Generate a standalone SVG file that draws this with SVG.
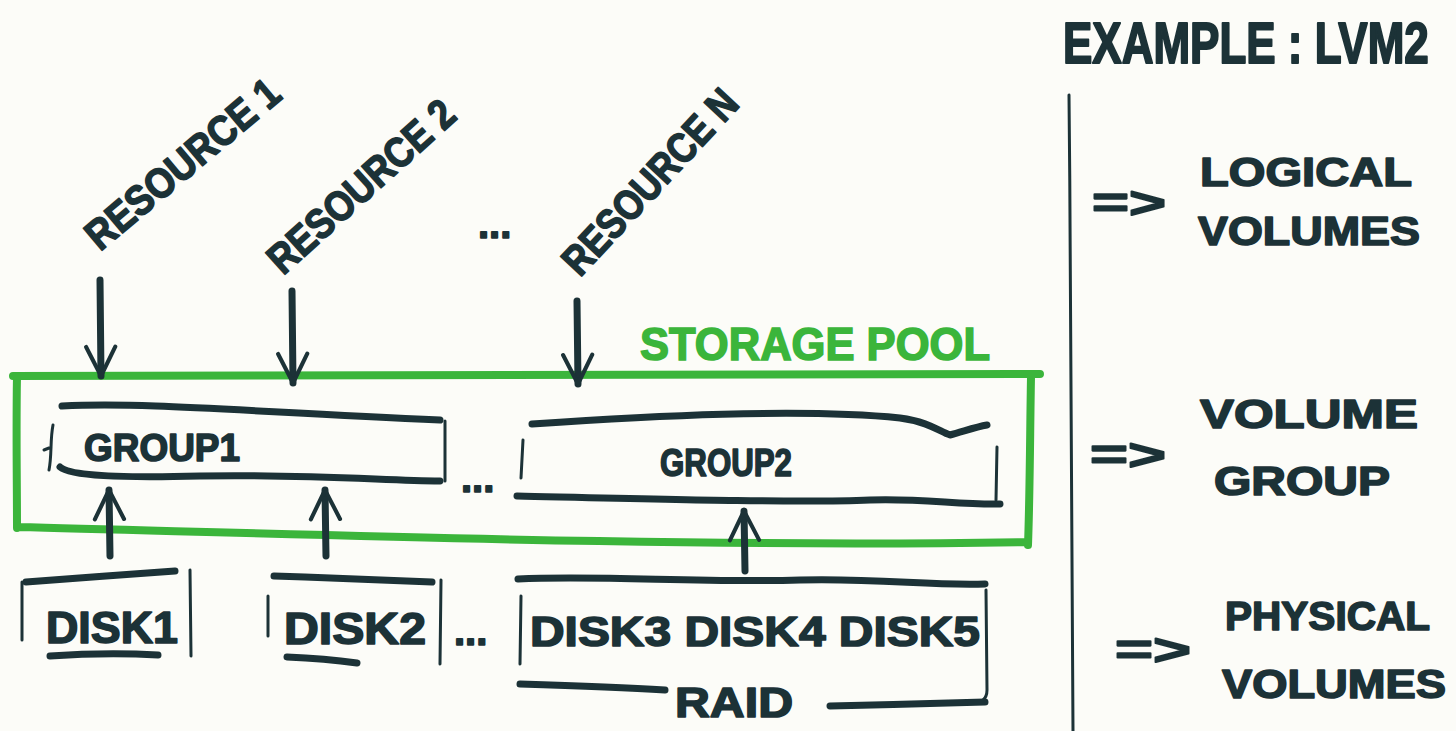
<svg xmlns="http://www.w3.org/2000/svg" width="1456" height="731" viewBox="0 0 1456 731">
  <style>
    .ink { fill: none; stroke: #1c3237; stroke-width: 7; stroke-linecap: round; stroke-linejoin: round; }
    .thin { fill: none; stroke: #1c3237; stroke-width: 3; stroke-linecap: round; }
    .pool { fill: none; stroke: #3bb53b; stroke-width: 8; stroke-linecap: round; stroke-linejoin: round; }
    .t { font-family: "Liberation Sans", Arial, sans-serif; font-weight: bold; fill: #1c3237; stroke: #1c3237; stroke-width: 1.6; stroke-linejoin: round; }
    .g { font-family: "Liberation Sans", Arial, sans-serif; font-weight: bold; fill: #3bb53b; stroke: #3bb53b; stroke-width: 1.6; }
  </style>
  <defs>
    <marker id="head" viewBox="0 0 12 12" refX="11" refY="6" markerWidth="5" markerHeight="5" orient="auto" markerUnits="strokeWidth">
      <path d="M1,1 L11,6 L1,11" fill="none" stroke="#1c3237" stroke-width="1.4" stroke-linecap="round" stroke-linejoin="round"/>
    </marker>
  </defs>
  <rect width="1456" height="731" fill="#fcfcf8"/>

  <!-- resources -->
  <g id="resource1">
    <text class="t" font-size="42" transform="translate(100,252) rotate(-40)" textLength="240" lengthAdjust="spacingAndGlyphs">RESOURCE 1</text>
  </g>
  <g id="resource2">
    <text class="t" font-size="42" transform="translate(283,276) rotate(-42)" textLength="236" lengthAdjust="spacingAndGlyphs">RESOURCE 2</text>
  </g>
  <g id="resource-dots">
    <text class="t" font-size="40" x="478" y="238">...</text>
  </g>
  <g id="resourceN">
    <text class="t" font-size="42" transform="translate(580,278) rotate(-47)" textLength="236" lengthAdjust="spacingAndGlyphs">RESOURCE N</text>
  </g>

  <!-- storage pool -->
  <g id="storage-pool">
    <path class="pool" d="M13,376 C250,373 600,378 1040,374 M1031,377 C1030,430 1030,490 1028,545 M1028,542 C700,548 300,534 17,527 M17,376 C16,430 17,480 17,528"/>
    <text class="g" font-size="46" x="640" y="360" textLength="350" lengthAdjust="spacingAndGlyphs">STORAGE POOL</text>
  </g>

  <!-- volume groups -->
  <g id="group1">
    <path class="ink" d="M62,406 C150,402 250,412 440,420"/>
    <path class="ink" d="M60,467 C70,476 120,478 200,476 C300,474 380,480 440,481"/>
    <path class="thin" d="M53,425 C50,440 52,455 49,470 M49,448 L44,450"/>
    <path class="thin" d="M445,421 L445,481"/>
    <text class="t" font-size="38" x="84" y="461" textLength="156" lengthAdjust="spacingAndGlyphs">GROUP1</text>
  </g>
  <g id="group-dots">
    <text class="t" font-size="40" x="461" y="492">...</text>
  </g>
  <g id="group2">
    <path class="ink" d="M532,424 C650,416 800,408 900,418 C930,422 940,432 950,435 C962,432 975,427 987,425"/>
    <path class="ink" d="M517,496 C650,499 800,503 870,500 C920,498 960,505 1000,504"/>
    <path class="thin" d="M523,440 L521,478"/>
    <path class="thin" d="M997,447 L996,500"/>
    <text class="t" font-size="38" x="660" y="476" textLength="132" lengthAdjust="spacingAndGlyphs">GROUP2</text>
  </g>

  <!-- disks -->
  <g id="disk1">
    <path class="ink" d="M26,582 C70,579 130,574 175,571"/>
    <path class="thin" d="M22,582 L22,640"/>
    <path class="thin" d="M190,570 L191,656"/>
    <text class="t" font-size="44" x="46" y="643" textLength="132" lengthAdjust="spacingAndGlyphs">DISK1</text>
    <path class="ink" d="M50,656 C80,654 120,653 158,655"/>
  </g>
  <g id="disk2">
    <path class="ink" d="M274,576 C330,578 390,580 432,582"/>
    <path class="thin" d="M268,596 L268,636"/>
    <path class="thin" d="M441,580 L440,664"/>
    <text class="t" font-size="44" x="284" y="644" textLength="142" lengthAdjust="spacingAndGlyphs">DISK2</text>
    <path class="ink" d="M287,657 C310,658 335,660 357,663"/>
  </g>
  <g id="disk-dots">
    <text class="t" font-size="40" x="454" y="645">...</text>
  </g>
  <g id="raid">
    <path class="ink" d="M518,579 C600,575 700,583 800,580 C880,578 930,586 985,584"/>
    <path class="thin" d="M521,596 L520,664"/>
    <path class="thin" d="M986,590 L987,690 C987,700 980,703 975,703"/>
    <text class="t" font-size="42" x="530" y="646" textLength="450" lengthAdjust="spacingAndGlyphs">DISK3  DISK4  DISK5</text>
    <path class="ink" d="M520,684 C580,686 630,688 665,690"/>
    <text class="t" font-size="42" x="675" y="717" textLength="118" lengthAdjust="spacingAndGlyphs">RAID</text>
    <path class="ink" d="M830,706 C880,705 940,703 985,702"/>
  </g>

  <!-- connectors -->
  <g id="connectors">
    <path class="ink" d="M100,280 L101,376" marker-end="url(#head)"/>
    <path class="ink" d="M292,291 L293,383" marker-end="url(#head)"/>
    <path class="ink" d="M577,301 L578,384" marker-end="url(#head)"/>
    <path class="ink" d="M110,556 L109,490" marker-end="url(#head)"/>
    <path class="ink" d="M326,556 L325,490" marker-end="url(#head)"/>
    <path class="ink" d="M745,571 L744,511" marker-end="url(#head)"/>
  </g>

  <!-- legend -->
  <g id="legend">
    <text class="t" font-size="44" transform="translate(1063,63) scale(1,1.3)">EXAMPLE : LVM2</text>
    <path class="thin" d="M1069,95 C1071,300 1072,500 1073,731"/>
  </g>
  <g id="logical-volumes">
    <text class="t" font-size="44" x="1092" y="218" textLength="74" lengthAdjust="spacingAndGlyphs">=&gt;</text>
    <text class="t" font-size="40" x="1200" y="186" textLength="212" lengthAdjust="spacingAndGlyphs">LOGICAL</text>
    <text class="t" font-size="40" x="1198" y="245" textLength="222" lengthAdjust="spacingAndGlyphs">VOLUMES</text>
  </g>
  <g id="volume-group">
    <text class="t" font-size="44" x="1090" y="470" textLength="76" lengthAdjust="spacingAndGlyphs">=&gt;</text>
    <text class="t" font-size="40" x="1200" y="428" textLength="218" lengthAdjust="spacingAndGlyphs">VOLUME</text>
    <text class="t" font-size="40" x="1214" y="495" textLength="176" lengthAdjust="spacingAndGlyphs">GROUP</text>
  </g>
  <g id="physical-volumes">
    <text class="t" font-size="44" x="1115" y="665" textLength="76" lengthAdjust="spacingAndGlyphs">=&gt;</text>
    <text class="t" font-size="40" x="1225" y="630" textLength="205" lengthAdjust="spacingAndGlyphs">PHYSICAL</text>
    <text class="t" font-size="40" x="1222" y="698" textLength="224" lengthAdjust="spacingAndGlyphs">VOLUMES</text>
  </g>
</svg>
